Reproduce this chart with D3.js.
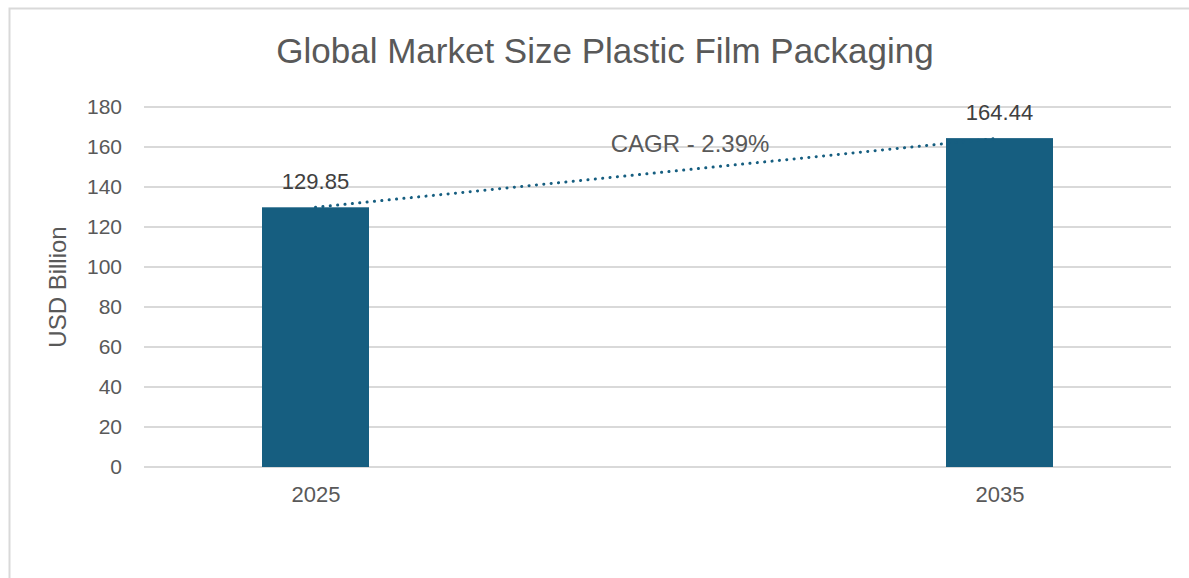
<!DOCTYPE html>
<html>
<head>
<meta charset="utf-8">
<script src="https://cdn.jsdelivr.net/npm/d3@7"></script>
<style>
  body { margin: 0; background: #fff; }
  svg { display: block; font-family: "Liberation Sans", Arial, sans-serif; }
</style>
</head>
<body>
<svg id="chart" width="1189" height="578"></svg>
<script>
// chart data
const years = ['2025', '2035'];
const marketSize = [129.85, 164.44];
const yTicks = [0, 20, 40, 60, 80, 100, 120, 140, 160, 180];
const cagrLabel = 'CAGR - 2.39%';

const fontFam = '"Liberation Sans", Arial, sans-serif';
const svg = d3.select('#chart');

// outer frame (top + left only, like the cropped screenshot)
svg.append('path')
    .attr('d', 'M9.5,578 V8.5 H1189')
    .attr('fill', 'none')
    .attr('stroke', '#d9d9d9')
    .attr('stroke-width', 2);

const plotLeft = 144, plotRight = 1171;

const x = d3.scalePoint()
    .domain(years)
    .range([315.5, 999.5]);

const y = d3.scaleLinear()
    .domain([0, 180])
    .range([467, 107]);

const barW = 107;

// gridlines
svg.append('g')
    .selectAll('line')
    .data(yTicks)
    .join('line')
    .attr('x1', plotLeft)
    .attr('x2', plotRight)
    .attr('y1', d => y(d))
    .attr('y2', d => y(d))
    .attr('stroke', '#d9d9d9')
    .attr('stroke-width', 2);

// y axis labels
const yAxis = d3.axisLeft(y).tickValues(yTicks).tickSize(0).tickPadding(0);
svg.append('g')
    .attr('transform', `translate(122,0)`)
    .call(yAxis)
    .call(g => g.select('.domain').remove())
    .selectAll('text')
    .attr('font-size', 21)
    .attr('fill', '#595959')
    .attr('font-family', fontFam);

// x axis labels
const xAxis = d3.axisBottom(x).tickSize(0).tickPadding(0);
svg.append('g')
    .attr('transform', `translate(0,486)`)
    .call(xAxis)
    .call(g => g.select('.domain').remove())
    .selectAll('text')
    .attr('font-size', 22)
    .attr('fill', '#595959')
    .attr('font-family', fontFam);

// bars
svg.append('g')
    .selectAll('rect')
    .data(marketSize)
    .join('rect')
    .attr('x', (d, i) => x(years[i]) - barW / 2)
    .attr('y', d => y(d))
    .attr('width', barW)
    .attr('height', d => y(0) - y(d))
    .attr('fill', '#165e80');

// trend line (dotted)
const line = d3.line()
    .x((d, i) => x(years[i]))
    .y(d => y(d));
svg.append('path')
    .datum(marketSize)
    .attr('d', line)
    .attr('fill', 'none')
    .attr('stroke', '#165e80')
    .attr('stroke-width', 3)
    .attr('stroke-linecap', 'round')
    .attr('stroke-dasharray', '0.1 7.3');

// data labels
svg.append('g')
    .selectAll('text')
    .data(marketSize)
    .join('text')
    .attr('x', (d, i) => x(years[i]))
    .attr('y', d => y(d) - 18.5)
    .attr('text-anchor', 'middle')
    .attr('font-size', 22)
    .attr('fill', '#404040')
    .text(d => d.toFixed(2));

// CAGR label
svg.append('text')
    .attr('x', 690)
    .attr('y', 152)
    .attr('text-anchor', 'middle')
    .attr('font-size', 24)
    .attr('fill', '#595959')
    .text(cagrLabel);

// title
svg.append('text')
    .attr('x', 605)
    .attr('y', 63)
    .attr('text-anchor', 'middle')
    .attr('font-size', 35)
    .attr('fill', '#595959')
    .text('Global Market Size Plastic Film Packaging');

// y axis title
svg.append('text')
    .attr('transform', 'translate(66,287) rotate(-90)')
    .attr('text-anchor', 'middle')
    .attr('font-size', 24)
    .attr('fill', '#595959')
    .text('USD Billion');
</script>
</body>
</html>
